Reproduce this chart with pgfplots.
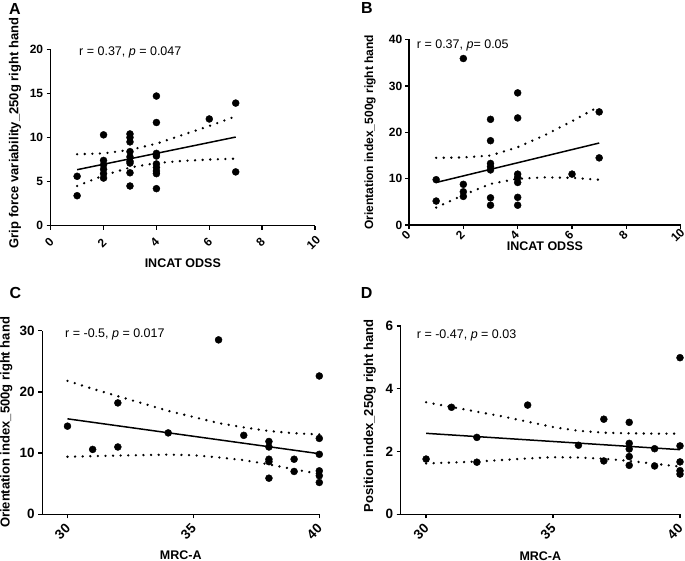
\documentclass[border=0pt]{standalone}
\usepackage{fontspec}
\setmainfont{Liberation Sans}
\usepackage{pgfplots}
\pgfplotsset{compat=1.18}
\pgfplotsset{
 gp/.style={
  scale only axis, clip=false,
  axis lines*=left,
  axis line style={line width=1.4pt,-},
  x axis line style={shorten <=-4pt},
  tick align=outside,
  major tick length=4pt,
  tick style={line width=1.4pt, black},
  minor tick num=0,
  /pgf/number format/assume math mode=true,
  xticklabel={\bfseries\pgfmathprintnumber{\tick}},
  yticklabel={\bfseries\pgfmathprintnumber{\tick}},
  tick label style={font=\fontsize{12}{12}\selectfont\bfseries},
  label style={font=\fontsize{12.5}{12.5}\selectfont\bfseries},
 },
 pts/.style={only marks, mark=*, mark size=3.5pt, black},
 fit/.style={no marks, black, line width=1.5pt},
 band/.style={no marks, black, line width=2.6pt, line cap=round, dash pattern=on 0pt off 7.6pt},
}
\begin{document}
\begin{tikzpicture}
\useasboundingbox (0pt,0pt) rectangle (685pt,561pt);
% ---------------- A
\begin{axis}[gp, at={(50.7pt,335.3pt)}, anchor=south west,
  width=264.3pt, height=176.4pt,
  xmin=0, xmax=10, ymin=0, ymax=20,
  xtick={0,2,4,6,8,10}, ytick={0,5,10,15,20},
  xticklabel style={xshift=-1.5pt, yshift=-13pt, rotate=45, anchor=center},
  yticklabel style={anchor=east, inner sep=0pt, xshift=-3.4pt},
  xlabel={INCAT ODSS}, ylabel={Grip force variability\_250g right hand},
  xlabel style={at={(axis description cs:0.5,-0.2132)}, anchor=center},
  ylabel style={at={(axis description cs:-0.1351,0.5255)}, anchor=center},
  ylabel style={font=\fontsize{13}{13}\selectfont\bfseries}]
\addplot[band] coordinates {(1,8.1) (2,8.2) (3,8.6) (4,9.3) (5,10.3) (6,11.3) (7,12.4)};
\addplot[band] coordinates {(1,4.5) (2,5.7) (3,6.6) (4,7.1) (5,7.35) (6,7.5) (7,7.6)};
\addplot[fit] coordinates {(1,6.35) (7,10.05)};
\addplot[pts] coordinates {
 (1,5.6) (1,3.4)
 (2,10.3) (2,7.4) (2,6.9) (2,6.4) (2,5.9) (2,5.4)
 (3,10.4) (3,10.0) (3,9.5) (3,8.4) (3,7.8) (3,7.3) (3,7.1) (3,6.0) (3,4.5)
 (4,14.7) (4,11.7) (4,8.2) (4,7.9) (4,7.0) (4,6.6) (4,6.2) (4,5.9) (4,4.2)
 (6,12.1) (7,13.9) (7,6.1)};
\end{axis}
% ---------------- B
\begin{axis}[gp, at={(409pt,335.8pt)}, anchor=south west,
  width=271.7pt, height=185.7pt,
  xmin=0, xmax=10, ymin=0, ymax=40,
  xtick={0,2,4,6,8,10}, ytick={0,10,20,30,40},
  xticklabel style={xshift=-3pt, yshift=-6pt, rotate=45, anchor=center},
  yticklabel style={anchor=east, inner sep=0pt, xshift=-2.6pt},
  xlabel={INCAT ODSS}, ylabel={Orientation index\_500g right hand},
  xlabel style={at={(axis description cs:0.5,-0.1131)}, anchor=center},
  ylabel style={at={(axis description cs:-0.1435,0.5)}, anchor=center},
  ylabel style={font=\fontsize{12}{12}\selectfont\bfseries}]
\addplot[band] coordinates {(1,14.5) (2,14.6) (3,15.0) (4,16.8) (5,19.4) (6,22.4) (7,25.6)};
\addplot[band] coordinates {(1,3.8) (2,6.5) (3,8.9) (4,10.0) (5,10.3) (6,10.2) (7,9.8)};
\addplot[fit] coordinates {(1,9.2) (7,17.7)};
\addplot[pts] coordinates {
 (1,9.8) (1,5.2)
 (2,35.9) (2,8.8) (2,7.2) (2,6.2)
 (3,22.8) (3,18.2) (3,13.3) (3,12.6) (3,11.9) (3,5.9) (3,4.3)
 (4,28.5) (4,23.1) (4,11.0) (4,10.3) (4,9.2) (4,6.0) (4,4.3)
 (6,11.0) (7,24.4) (7,14.5)};
\end{axis}
% ---------------- C
\begin{axis}[gp, at={(42.3pt,46.7pt)}, anchor=south west,
  width=277pt, height=183.6pt,
  xmin=29, xmax=40, ymin=0, ymax=30,
  xtick={30,35,40}, ytick={0,10,20,30},
  tick label style={font=\fontsize{13.5}{13.5}\selectfont\bfseries},
  xticklabel style={xshift=-5pt, yshift=-13.4pt, rotate=45, anchor=center},
  yticklabel style={anchor=east, inner sep=0pt, xshift=-3.5pt},
  xlabel={MRC-A}, ylabel={Orientation index\_500g right hand},
  xlabel style={at={(axis description cs:0.5,-0.2216)}, anchor=center},
  ylabel style={at={(axis description cs:-0.1303,0.5)}, anchor=center},
  ylabel style={font=\fontsize{13}{13}\selectfont\bfseries}]
\addplot[band] coordinates {(30,21.8) (31,20.5) (32,19.3) (33,18.1) (34,16.9) (35,15.9) (36,14.9) (37,14.2) (38,13.6) (39,13.25) (40,13.05)};
\addplot[band] coordinates {(30,9.4) (32,9.6) (34,9.75) (35,9.65) (36,9.3) (37,8.85) (38,8.15) (39,7.35) (40,6.6)};
\addplot[fit] coordinates {(30,15.6) (40,9.9)};
\addplot[pts] coordinates {
 (30,14.4) (31,10.6) (32,18.2) (32,11.0) (34,13.3) (36,28.5) (37,12.9)
 (38,11.9) (38,11.0) (38,9.0) (38,8.6) (38,5.9)
 (39,9.0) (39,7.0)
 (40,22.6) (40,12.4) (40,9.8) (40,7.1) (40,6.3) (40,5.2)};
\end{axis}
% ---------------- D
\begin{axis}[gp, at={(400.7pt,46.7pt)}, anchor=south west,
  width=279.3pt, height=188.3pt,
  xmin=29, xmax=40, ymin=0, ymax=6,
  xtick={30,35,40}, ytick={0,2,4,6},
  tick label style={font=\fontsize{13.5}{13.5}\selectfont\bfseries},
  xticklabel style={xshift=-5pt, yshift=-13.4pt, rotate=45, anchor=center},
  yticklabel style={anchor=east, inner sep=0pt, xshift=-3.4pt},
  xlabel={MRC-A}, ylabel={Position index\_250g right hand},
  xlabel style={at={(axis description cs:0.5,-0.2199)}, anchor=center},
  ylabel style={at={(axis description cs:-0.111,0.5234)}, anchor=center},
  ylabel style={font=\fontsize{13}{13}\selectfont\bfseries}]
\addplot[band] coordinates {(30,3.57) (31,3.42) (32,3.27) (33,3.12) (34,2.95) (35,2.78) (36,2.66) (37,2.6) (38,2.58) (39,2.57) (40,2.57)};
\addplot[band] coordinates {(30,1.62) (32,1.68) (34,1.78) (35,1.82) (36,1.81) (37,1.77) (38,1.70) (39,1.61) (40,1.52)};
\addplot[fit] coordinates {(30,2.58) (40,2.06)};
\addplot[pts] coordinates {
 (30,1.76) (31,3.41) (32,2.45) (32,1.66) (34,3.48) (36,2.2) (37,3.03) (37,1.70)
 (38,2.93) (38,2.26) (38,2.08) (38,1.84) (38,1.56)
 (39,2.09) (39,1.54)
 (40,4.99) (40,2.18) (40,1.67) (40,1.39) (40,1.28)};
\end{axis}
% ---------------- annotations and panel letters
\node[anchor=base west, inner sep=0pt, font=\fontsize{12.5}{15}\selectfont] at (79pt,505.7pt) {r = 0.37, \textit{p} = 0.047};
\node[anchor=base west, inner sep=0pt, font=\fontsize{12.5}{15}\selectfont] at (416.7pt,512.7pt) {r = 0.37, \textit{p}= 0.05};
\node[anchor=base west, inner sep=0pt, font=\fontsize{12.5}{15}\selectfont] at (65pt,223.7pt) {r = -0.5, \textit{p} = 0.017};
\node[anchor=base west, inner sep=0pt, font=\fontsize{12.5}{15}\selectfont] at (416.7pt,222.7pt) {r = -0.47, \textit{p} = 0.03};
\node[inner sep=0pt, font=\fontsize{16}{16}\selectfont\bfseries] at (15pt,552.3pt) {A};
\node[inner sep=0pt, font=\fontsize{16}{16}\selectfont\bfseries] at (367pt,552.7pt) {B};
\node[inner sep=0pt, font=\fontsize{16}{16}\selectfont\bfseries] at (15.5pt,268.2pt) {C};
\node[inner sep=0pt, font=\fontsize{16}{16}\selectfont\bfseries] at (366.7pt,268.2pt) {D};
\end{tikzpicture}
\end{document}
